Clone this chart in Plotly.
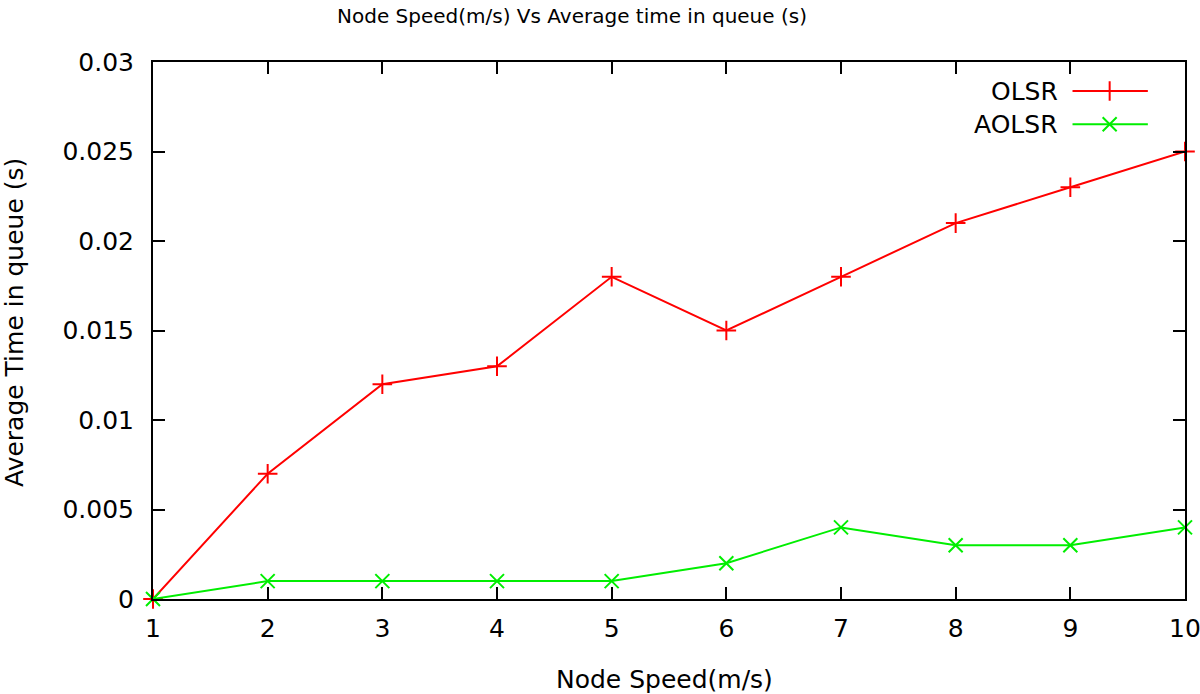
import plotly.graph_objects as go

speed = [1, 2, 3, 4, 5, 6, 7, 8, 9, 10]
olsr = [0, 0.007, 0.012, 0.013, 0.018, 0.015, 0.018, 0.021, 0.023, 0.025]
aolsr = [0, 0.001, 0.001, 0.001, 0.001, 0.002, 0.004, 0.003, 0.003, 0.004]
y_ticks = [0, 0.005, 0.01, 0.015, 0.02, 0.025, 0.03]
y_tick_text = ["0", "0.005", "0.01", "0.015", "0.02", "0.025", "0.03"]
series_names = ["OLSR", "AOLSR"]
colors = ["#ff0000", "#00ee00"]
symbols = ["cross-thin", "x-thin"]

FONT = "DejaVu Sans"
FS = 25
fig = go.Figure()
for name, vals, col, sym in zip(series_names, [olsr, aolsr], colors, symbols):
    fig.add_trace(go.Scatter(
        x=speed, y=vals, mode="lines+markers", name=name,
        line=dict(color=col, width=2),
        marker=dict(symbol=sym, size=14, line=dict(color=col, width=2), color=col),
        showlegend=False, cliponaxis=False,
    ))

# custom gnuplot-style legend (text left, sample right)
leg_y = [0.946, 0.884]
for i, (name, col, sym) in enumerate(zip(series_names, colors, symbols)):
    fig.add_trace(go.Scatter(
        x=[0.891, 0.964], y=[leg_y[i], leg_y[i]], xaxis="x2", yaxis="y2",
        mode="lines", line=dict(color=col, width=2), showlegend=False, hoverinfo="skip"))
    fig.add_trace(go.Scatter(
        x=[0.927], y=[leg_y[i]], xaxis="x2", yaxis="y2",
        mode="markers", marker=dict(symbol=sym, size=14, line=dict(color=col, width=2), color=col),
        showlegend=False, hoverinfo="skip"))
    fig.add_annotation(text=name, xref="x2", yref="y2", x=0.879, y=leg_y[i],
                       xanchor="right", yanchor="middle", showarrow=False,
                       font=dict(family=FONT, size=FS, color="black"))

# titles as annotations
fig.add_annotation(text="Node Speed(m/s) Vs Average time in queue (s)", xref="paper", yref="paper",
                   x=0.406, y=1.0857, xanchor="center", yanchor="middle", showarrow=False,
                   font=dict(family=FONT, size=20, color="black"))
fig.add_annotation(text="Node Speed(m/s)", xref="paper", yref="paper",
                   x=0.496, y=-0.149, xanchor="center", yanchor="middle", showarrow=False,
                   font=dict(family=FONT, size=FS, color="black"))
fig.add_annotation(text="Average Time in queue (s)", xref="paper", yref="paper",
                   x=-0.1347, y=0.5158, xanchor="center", yanchor="middle", showarrow=False,
                   textangle=-90, font=dict(family=FONT, size=FS, color="black"))

axis_common = dict(
    showline=True, linecolor="black", linewidth=2, mirror="ticks",
    ticks="inside", ticklen=12, tickwidth=2, tickcolor="black",
    showgrid=False, zeroline=False, ticklabeloverflow="allow", automargin=False,
    tickfont=dict(family=FONT, size=FS, color="black"),
)
fig.update_layout(
    width=1200, height=694,
    margin=dict(l=153, r=15, t=62, b=95),
    plot_bgcolor="white", paper_bgcolor="white",
    xaxis=dict(range=[1, 10], tickvals=speed, ticklabelstandoff=6, **axis_common),
    yaxis=dict(range=[0, 0.03], tickvals=y_ticks, ticktext=y_tick_text, ticklabelstandoff=12,
               **axis_common),
    xaxis2=dict(overlaying="x", range=[0, 1], visible=False),
    yaxis2=dict(overlaying="y", range=[0, 1], visible=False),
)
fig.write_html("out.html", config={"displayModeBar": False},
               post_script="document.body.style.margin='0';document.body.style.overflow='hidden';")
